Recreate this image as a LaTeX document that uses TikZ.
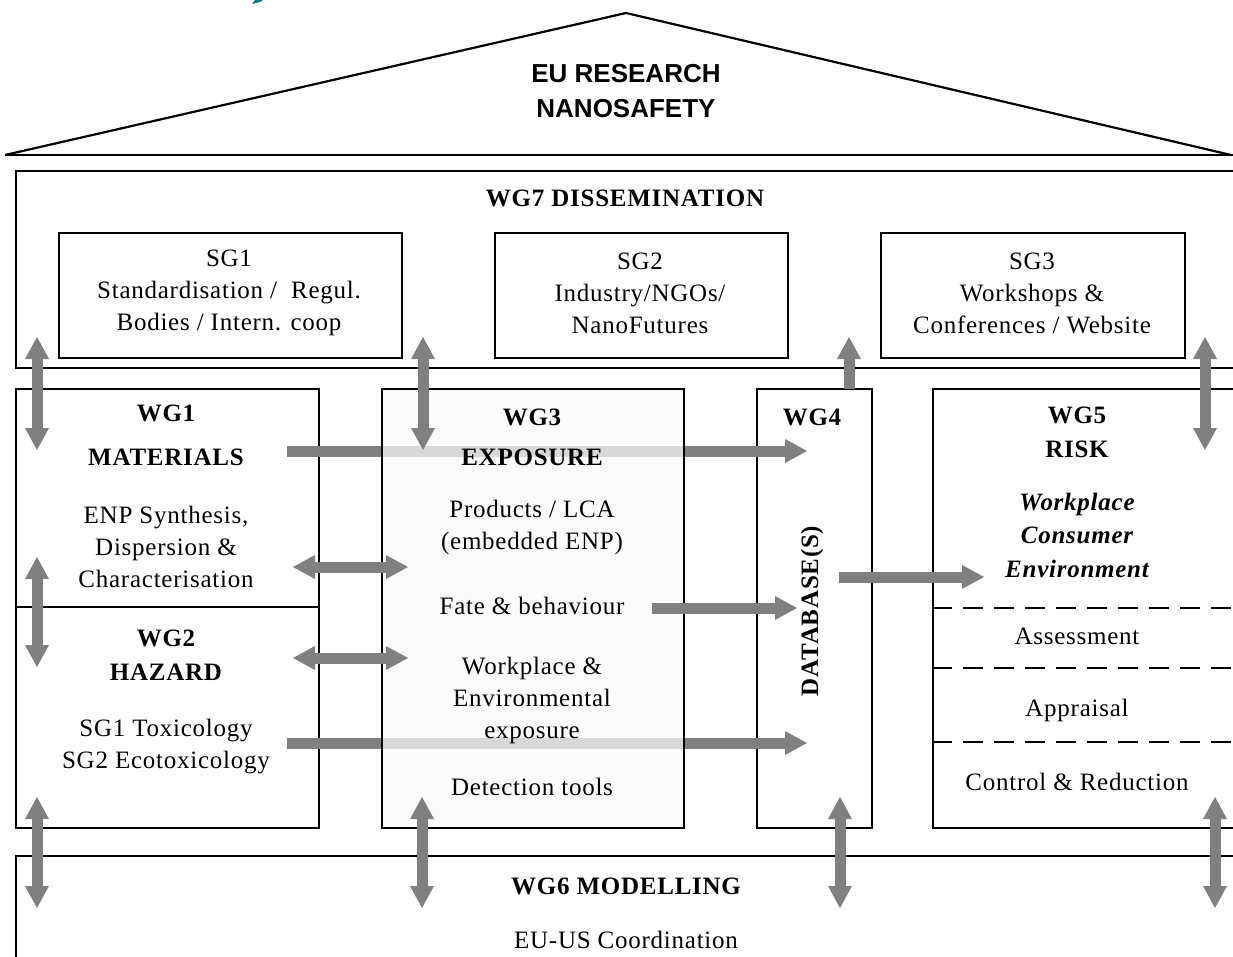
\documentclass[tikz,border=0pt]{standalone}
\usepackage{fontspec}
\setmainfont[LetterSpace=3]{Liberation Serif}
\newfontfamily\roofFont{Liberation Sans}
\usetikzlibrary{arrows.meta}
\definecolor{arrowgray}{RGB}{128,128,128}
\definecolor{wgfill}{RGB}{250,250,250}
\definecolor{tealfrag}{RGB}{0,122,122}
\tikzset{
  box/.style={draw=black, line width=2.4pt, inner sep=0pt, anchor=north west},
  roofline/.style={draw=black, line width=2.2pt, line join=miter},
  txt/.style={font=\fontsize{25}{32}\selectfont, align=center, inner sep=0pt},
  btxt/.style={font=\fontsize{25}{34}\selectfont\bfseries, align=center, inner sep=0pt},
  itxt/.style={font=\fontsize{25}{33.5}\selectfont\bfseries\itshape, align=center, inner sep=0pt},
  rooftxt/.style={font=\roofFont\fontsize{26}{35}\selectfont\bfseries, align=center, inner sep=0pt},
  gtip/.tip={Triangle[length=22pt, width=24pt, line width=0pt]},
  garrow/.style={draw=arrowgray, line width=11pt, -gtip},
  gdarrow/.style={draw=arrowgray, line width=11pt, gtip-gtip},
  dashsep/.style={draw=black, line width=2.2pt, dash pattern=on 20pt off 11pt},
}
\begin{document}
\begin{tikzpicture}[x=1pt, y=-1pt]
\clip (0,0) rectangle (1233,957);
\fill[white] (0,0) rectangle (1233,957);

% title fragment
\fill[tealfrag] (252,4) -- (255,0) -- (263,0) -- (260,2) -- cycle;

% roof
\coordinate (apex) at (626,13);
\coordinate (rl) at (5,155);
\coordinate (rr) at (1231,155);
\draw[roofline] (rl) -- (apex) -- (rr);
\draw[draw=black, line width=2.6pt] (rl) -- (1240,155);
\node[rooftxt] (roof) at (626,91) {EU RESEARCH\\NANOSAFETY};

% WG7
\node[box, minimum width=1250pt, minimum height=197pt] (wg7) at (15,170) {};
\node[btxt] (wg7t) at (625,198) {WG7 DISSEMINATION};
\node[box, minimum width=343pt, minimum height=125pt] (sg1) at (58,232) {};
\node[box, minimum width=293pt, minimum height=125pt] (sg2) at (494,232) {};
\node[box, minimum width=304pt, minimum height=125pt] (sg3) at (880,232) {};
\node[txt] (sg1t) at (229,293) {SG1\\Standardisation /\ \ Regul.\\Bodies / Intern. coop};
\node[txt] (sg2t) at (640,293) {SG2\\Industry/NGOs/\\NanoFutures};
\node[txt] (sg3t) at (1032,293) {SG3\\Workshops \&\\Conferences / Website};

% WG1 / WG2
\node[box, minimum width=303pt, minimum height=439pt] (wg12) at (15,388) {};
\coordinate (divl) at (15,607);
\coordinate (divr) at (318,607);
\draw[draw=black, line width=2.4pt] (divl) -- (divr);
\node[btxt] (wg1t) at (166,413) {WG1};
\node[btxt] (mat) at (166,457) {MATERIALS};
\node[txt] (enp) at (166,547) {ENP Synthesis,\\Dispersion \&\\Characterisation};
\node[btxt] (wg2t) at (166,655) {WG2\\HAZARD};
\node[txt] (tox) at (166,747) {SG1 Toxicology\\SG2 Ecotoxicology};

% WG4 box
\node[box, minimum width=115pt, minimum height=439pt] (wg4) at (756,388) {};

% long arrows (pass under WG3)
\coordinate (l1s) at (287,451);
\coordinate (l1e) at (807,451);
\coordinate (l2s) at (287,743);
\coordinate (l2e) at (807,743);
\draw[garrow] (l1s) -- (l1e);
\draw[garrow] (l2s) -- (l2e);

% WG3
\node[box, fill=wgfill, fill opacity=0.73, minimum width=302pt, minimum height=439pt] (wg3) at (381,388) {};
\node[btxt] (wg3t) at (532,417) {WG3};
\node[btxt] (expo) at (532,457) {EXPOSURE};
\node[txt] (prod) at (532,527) {Products / LCA\\(embedded ENP)};
\node[txt] (fate) at (532,606) {Fate \& behaviour};
\node[txt] (work) at (532,700) {Workplace \&\\Environmental\\exposure};
\node[txt] (det) at (532,787) {Detection tools};

% WG4 texts
\node[btxt] (wg4t) at (812,417) {WG4};
\node[btxt, rotate=90] (db) at (812,611) {DATABASE(S)};

% WG5
\node[box, minimum width=330pt, minimum height=439pt] (wg5) at (932,388) {};
\node[btxt] (wg5t) at (1077,432) {WG5\\RISK};
\node[itxt] (wce) at (1077,535) {Workplace\\Consumer\\Environment};
\coordinate (d1l) at (932,608); \coordinate (d1r) at (1240,608);
\coordinate (d2l) at (932,668); \coordinate (d2r) at (1240,668);
\coordinate (d3l) at (932,742); \coordinate (d3r) at (1240,742);
\draw[dashsep] (d1l) -- (d1r);
\draw[dashsep] (d2l) -- (d2r);
\draw[dashsep] (d3l) -- (d3r);
\node[txt] (ass) at (1077,636) {Assessment};
\node[txt] (appr) at (1077,710) {Appraisal};
\node[txt] (ctrl) at (1077,782) {Control \& Reduction};

% WG6
\node[box, minimum width=1250pt, minimum height=140pt] (wg6) at (15,855) {};
\node[btxt] (wg6t) at (626,886) {WG6 MODELLING};
\node[txt] (euus) at (626,940) {EU-US Coordination};

% arrows WG7 <-> middle row
\coordinate (t1a) at (37,337);  \coordinate (t1b) at (37,450);
\coordinate (t2a) at (423,337); \coordinate (t2b) at (423,450);
\coordinate (t3a) at (849,389); \coordinate (t3b) at (849,337);
\coordinate (t4a) at (1205,337); \coordinate (t4b) at (1205,450);
\draw[gdarrow] (t1a) -- (t1b);
\draw[gdarrow] (t2a) -- (t2b);
\draw[garrow] (t3a) -- (t3b);
\draw[gdarrow] (t4a) -- (t4b);

% WG1 <-> WG2
\coordinate (m1a) at (37,557); \coordinate (m1b) at (37,667);
\draw[gdarrow] (m1a) -- (m1b);

% WG1/WG2 <-> WG3
\coordinate (h1a) at (293,567); \coordinate (h1b) at (408,567);
\coordinate (h2a) at (293,658); \coordinate (h2b) at (408,658);
\draw[gdarrow] (h1a) -- (h1b);
\draw[gdarrow] (h2a) -- (h2b);

% WG3 -> WG4, WG4 -> WG5
\coordinate (fs) at (652,608); \coordinate (fe) at (797,608);
\draw[garrow] (fs) -- (fe);
\coordinate (ds) at (839,577); \coordinate (de) at (984,577);
\draw[garrow] (ds) -- (de);

% middle row <-> WG6
\coordinate (b1a) at (37,797);  \coordinate (b1b) at (37,908);
\coordinate (b2a) at (422,797); \coordinate (b2b) at (422,908);
\coordinate (b3a) at (840,797); \coordinate (b3b) at (840,908);
\coordinate (b4a) at (1215,797); \coordinate (b4b) at (1215,908);
\draw[gdarrow] (b1a) -- (b1b);
\draw[gdarrow] (b2a) -- (b2b);
\draw[gdarrow] (b3a) -- (b3b);
\draw[gdarrow] (b4a) -- (b4b);
\end{tikzpicture}
\end{document}
